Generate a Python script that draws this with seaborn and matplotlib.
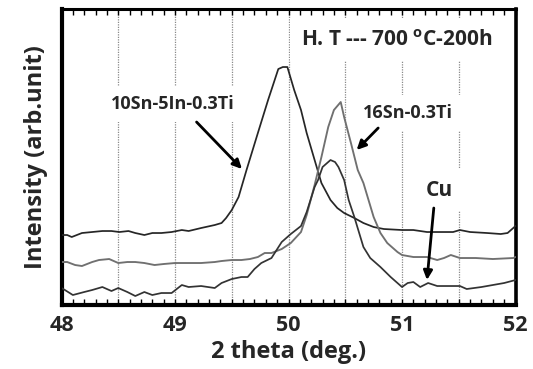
import numpy as np
import pandas as pd
import matplotlib
matplotlib.use("Agg")
import matplotlib.pyplot as plt
from matplotlib.ticker import MultipleLocator, FuncFormatter
import seaborn as sns

# 2-theta positions (deg.) and intensities (arb. unit) for each alloy
theta_a = [48.00, 48.05, 48.09, 48.18, 48.27, 48.36, 48.44, 48.51, 48.59, 48.65,
           48.73, 48.80, 48.88, 48.97, 49.06, 49.12, 49.23, 49.35, 49.41, 49.45,
           49.50, 49.56, 49.63, 49.73, 49.82, 49.91, 49.95, 49.99, 50.05, 50.11,
           50.16, 50.23, 50.29, 50.37, 50.43, 50.49, 50.58, 50.66, 50.75, 50.84,
           51.00, 51.10, 51.22, 51.35, 51.45, 51.51, 51.60, 51.75, 51.87, 51.93, 52.00]
int_a = [70, 70, 68, 72, 73, 74, 74, 73, 74, 72,
         70, 72, 72, 73, 75, 74, 77, 80, 82, 87,
         95, 108, 135, 172, 205, 236, 238, 238, 215, 195,
         172, 145, 122, 105, 97, 92, 87, 82, 78, 76,
         75, 75, 73, 73, 73, 75, 73, 72, 71, 72, 79]

theta_b = [48.00, 48.05, 48.12, 48.18, 48.27, 48.33, 48.42, 48.50, 48.58, 48.65,
           48.73, 48.82, 48.90, 49.00, 49.12, 49.23, 49.35, 49.41, 49.50, 49.585,
           49.66, 49.73, 49.79, 49.85, 49.94, 50.02, 50.11, 50.16, 50.23, 50.29,
           50.35, 50.40, 50.46, 50.49, 50.55, 50.61, 50.66, 50.75, 50.81, 50.87,
           50.96, 51.00, 51.10, 51.22, 51.31, 51.37, 51.43, 51.51, 51.65, 51.80,
           51.98, 52.00]
int_b = [43, 43, 40, 39, 43, 45, 46, 42, 43, 43,
         42, 40, 41, 42, 42, 42, 43, 44, 45, 45,
         46, 48, 52, 52, 56, 62, 73, 90, 120, 148,
         178, 195, 203, 188, 162, 135, 122, 88, 72, 62,
         53, 50, 48, 48, 45, 47, 50, 47, 47, 46,
         47, 48]

theta_c = [48.00, 48.03, 48.10, 48.20, 48.27, 48.36, 48.44, 48.50, 48.58, 48.65,
           48.73, 48.80, 48.88, 48.97, 49.06, 49.12, 49.23, 49.35, 49.41, 49.50,
           49.585, 49.64, 49.70, 49.76, 49.85, 49.94, 50.02, 50.11, 50.16, 50.23,
           50.26, 50.30, 50.37, 50.41, 50.44, 50.49, 50.53, 50.58, 50.66, 50.72,
           50.81, 50.90, 51.00, 51.05, 51.10, 51.16, 51.23, 51.31, 51.43, 51.51,
           51.57, 51.70, 51.80, 51.90, 52.00]
int_c = [17, 15, 10, 13, 15, 18, 14, 17, 13, 9,
         13, 10, 12, 12, 20, 18, 19, 17, 22, 26,
         28, 28, 36, 42, 47, 63, 71, 79, 93, 118,
         125, 138, 145, 143, 138, 125, 105, 88, 58, 47,
         38, 28, 18, 22, 23, 18, 22, 19, 19, 19,
         16, 18, 20, 22, 25]

x_ticks = [48, 49, 50, 51, 52]

sns.set_theme(style="white")
plt.rcParams["font.family"] = ["Open Sans", "DejaVu Sans"]
plt.rcParams["font.weight"] = "bold"
plt.rcParams["mathtext.fontset"] = "custom"
plt.rcParams["mathtext.bf"] = "Open Sans:bold"
plt.rcParams["mathtext.rm"] = "Open Sans:bold"

fig = plt.figure(figsize=(5.33, 3.69), dpi=100)
ax = fig.add_axes([0.1154, 0.1734, 0.8518, 0.8035])

df_a = pd.DataFrame({"theta": theta_a, "I": int_a})
df_b = pd.DataFrame({"theta": theta_b, "I": int_b})
df_c = pd.DataFrame({"theta": theta_c, "I": int_c})

sns.lineplot(data=df_a, x="theta", y="I", ax=ax, color="#262626", lw=1.25, sort=False, zorder=4)
sns.lineplot(data=df_b, x="theta", y="I", ax=ax, color="#707070", lw=1.35, sort=False, zorder=4)
sns.lineplot(data=df_c, x="theta", y="I", ax=ax, color="#333333", lw=1.25, sort=False, zorder=4)

ax.set_xlim(48, 52)
ax.set_ylim(0, 296.5)
ax.set_yticks([])

# dotted vertical grid every 0.5 deg., labels only on whole degrees
ax.xaxis.set_major_locator(MultipleLocator(0.5))
ax.xaxis.set_minor_locator(MultipleLocator(0.1))
ax.xaxis.set_major_formatter(FuncFormatter(
    lambda v, p: f"{v:.0f}" if any(abs(v - t) < 1e-6 for t in x_ticks) else ""))
ax.set_axisbelow(True)
ax.grid(axis="x", which="major", color="#8a8a8a", linestyle=(0, (1, 1)), lw=0.9)
ax.grid(axis="y", visible=False)

ax.tick_params(axis="x", which="both", direction="in", top=True, bottom=True,
               length=4.5, width=1.0, color="black", labelsize=15.5, pad=7)
for lab in ax.get_xticklabels():
    lab.set_fontweight("bold")

for side, w in (("left", 3.0), ("bottom", 3.0), ("right", 2.6), ("top", 2.2)):
    ax.spines[side].set_visible(True)
    ax.spines[side].set_color("black")
    ax.spines[side].set_linewidth(w)

ax.set_xlabel("2 theta (deg.)", fontsize=17, fontweight="bold", labelpad=3)
ax.set_ylabel("Intensity (arb.unit)", fontsize=17, fontweight="bold", labelpad=10)

box = dict(boxstyle="square,pad=0.5", fc="white", ec="none")

ax.text(50.95, 265, r"H. T --- 700 $^{\mathbf{o}}$C-200h", fontsize=15,
        fontweight="bold", ha="center", va="center", bbox=box, zorder=3)
ax.text(48.98, 201, "10Sn-5In-0.3Ti", fontsize=13, fontweight="bold",
        ha="center", va="center", bbox=box, zorder=3)
ax.text(51.05, 192, "16Sn-0.3Ti", fontsize=13, fontweight="bold",
        ha="center", va="center", bbox=box, zorder=3)
ax.text(51.33, 115, "Cu", fontsize=15, fontweight="bold",
        ha="center", va="center", bbox=box, zorder=3)

arrow = dict(arrowstyle="-|>,head_length=0.45,head_width=0.22", color="black", lw=2.0,
             shrinkA=0, shrinkB=0)
ax.annotate("", xy=(49.59, 136), xytext=(49.19, 183), arrowprops=arrow, zorder=5)
ax.annotate("", xy=(50.60, 155), xytext=(50.79, 177), arrowprops=arrow, zorder=5)
ax.annotate("", xy=(51.22, 25), xytext=(51.28, 97), arrowprops=arrow, zorder=5)

fig.savefig("out.png", dpi=100)
